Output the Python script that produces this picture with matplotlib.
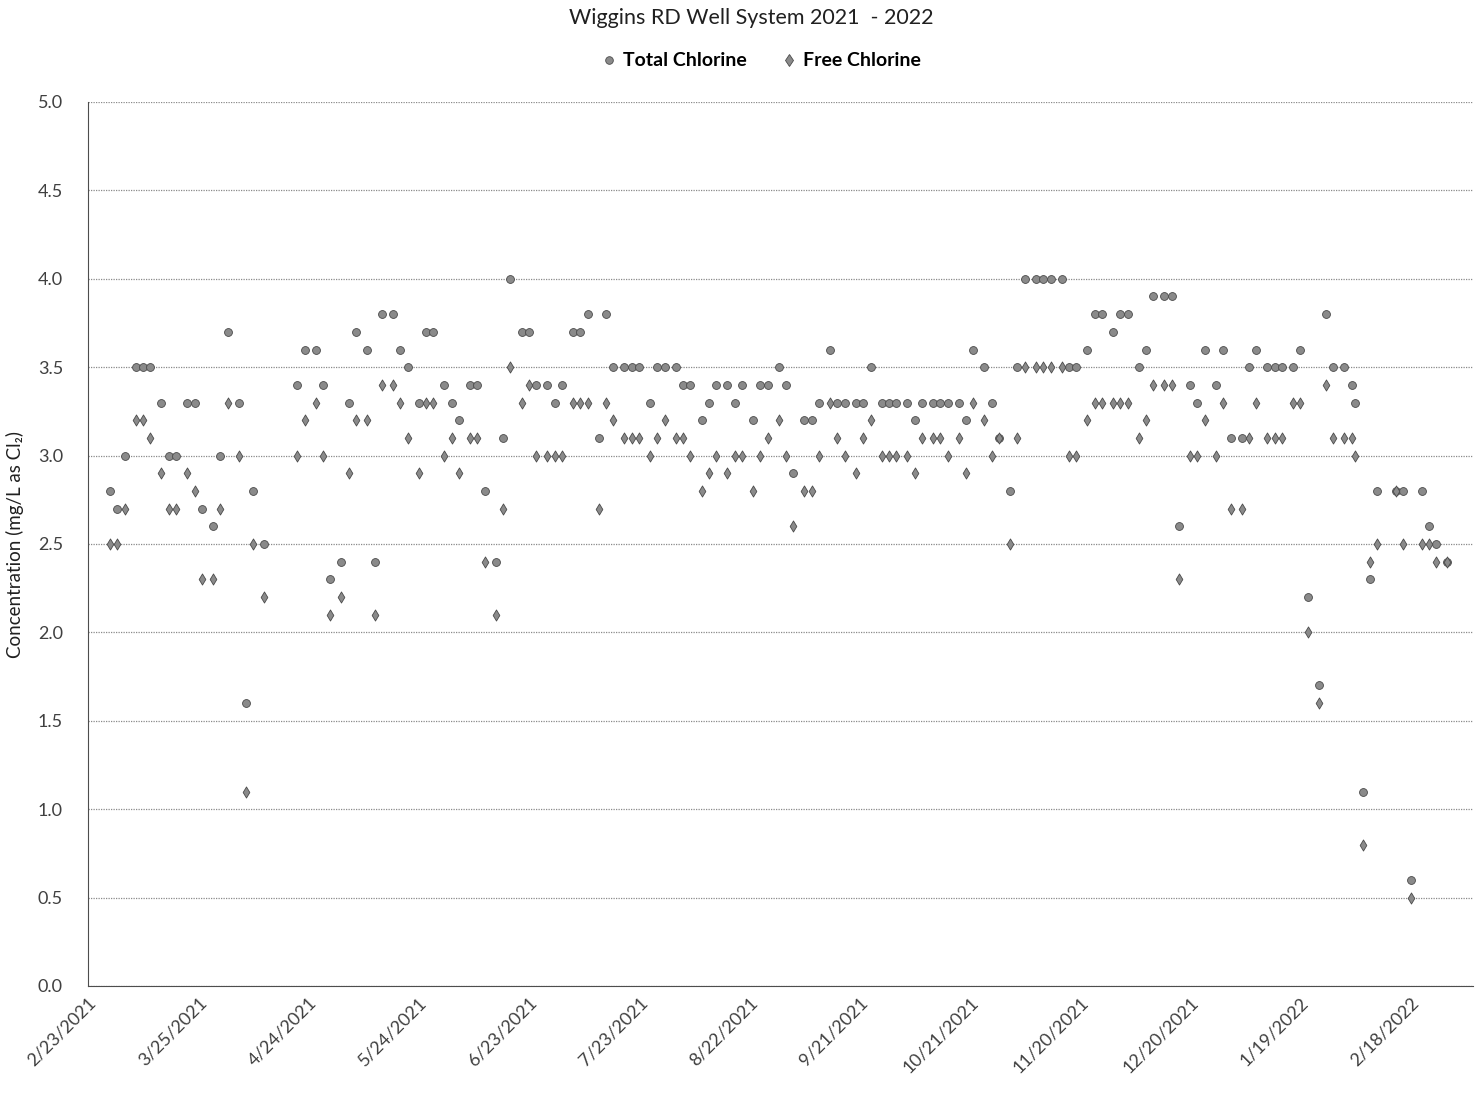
import matplotlib
matplotlib.use("Agg")
import matplotlib.pyplot as plt
from matplotlib.lines import Line2D
import datetime as dt

plt.rcParams['font.family'] = ['Lato', 'DejaVu Sans']

# ---- data ----
dates = [
    "2021-03-01", "2021-03-03", "2021-03-05",
    "2021-03-08", "2021-03-10", "2021-03-12",
    "2021-03-15", "2021-03-17", "2021-03-19",
    "2021-03-22", "2021-03-24", "2021-03-26",
    "2021-03-29", "2021-03-31", "2021-04-02",
    "2021-04-05", "2021-04-07", "2021-04-09",
    "2021-04-12",
    "2021-04-21", "2021-04-23",
    "2021-04-26", "2021-04-28", "2021-04-30",
    "2021-05-03", "2021-05-05", "2021-05-07",
    "2021-05-10", "2021-05-12", "2021-05-14",
    "2021-05-17", "2021-05-19", "2021-05-21",
    "2021-05-24", "2021-05-26", "2021-05-28",
    "2021-05-31", "2021-06-02", "2021-06-04",
    "2021-06-07", "2021-06-09", "2021-06-11",
    "2021-06-14", "2021-06-16", "2021-06-18",
    "2021-06-21", "2021-06-23", "2021-06-25",
    "2021-06-28", "2021-06-30", "2021-07-02",
    "2021-07-05", "2021-07-07", "2021-07-09",
    "2021-07-12", "2021-07-14", "2021-07-16",
    "2021-07-19", "2021-07-21", "2021-07-23",
    "2021-07-26", "2021-07-28", "2021-07-30",
    "2021-08-02", "2021-08-04", "2021-08-06",
    "2021-08-09", "2021-08-11", "2021-08-13",
    "2021-08-16", "2021-08-18", "2021-08-20",
    "2021-08-23", "2021-08-25", "2021-08-27",
    "2021-08-30", "2021-09-01", "2021-09-03",
    "2021-09-06", "2021-09-08", "2021-09-10",
    "2021-09-13", "2021-09-15", "2021-09-17",
    "2021-09-20", "2021-09-22", "2021-09-24",
    "2021-09-27", "2021-09-29", "2021-10-01",
    "2021-10-04", "2021-10-06", "2021-10-08",
    "2021-10-11", "2021-10-13", "2021-10-15",
    "2021-10-18", "2021-10-20", "2021-10-22",
    "2021-10-25", "2021-10-27", "2021-10-29",
    "2021-11-01", "2021-11-03", "2021-11-05",
    "2021-11-08", "2021-11-10", "2021-11-12",
    "2021-11-15", "2021-11-17", "2021-11-19",
    "2021-11-22", "2021-11-24", "2021-11-26",
    "2021-11-29", "2021-12-01", "2021-12-03",
    "2021-12-06", "2021-12-08", "2021-12-10",
    "2021-12-13", "2021-12-15", "2021-12-17",
    "2021-12-20", "2021-12-22", "2021-12-24",
    "2021-12-27", "2021-12-29", "2021-12-31",
    "2022-01-03", "2022-01-05", "2022-01-07",
    "2022-01-10", "2022-01-12", "2022-01-14",
    "2022-01-17", "2022-01-19", "2022-01-21",
    "2022-01-24", "2022-01-26", "2022-01-28",
    "2022-01-31", "2022-02-02", "2022-02-03",
    "2022-02-05", "2022-02-07", "2022-02-09",
    "2022-02-14", "2022-02-16", "2022-02-18",
    "2022-02-21", "2022-02-23", "2022-02-25",
    "2022-02-28",
]

total_chlorine = [
    2.8, 2.7, 3.0,
    3.5, 3.5, 3.5,
    3.3, 3.0, 3.0,
    3.3, 3.3, 2.7,
    2.6, 3.0, 3.7,
    3.3, 1.6, 2.8,
    2.5,
    3.4, 3.6,
    3.6, 3.4, 2.3,
    2.4, 3.3, 3.7,
    3.6, 2.4, 3.8,
    3.8, 3.6, 3.5,
    3.3, 3.7, 3.7,
    3.4, 3.3, 3.2,
    3.4, 3.4, 2.8,
    2.4, 3.1, 4.0,
    3.7, 3.7, 3.4,
    3.4, 3.3, 3.4,
    3.7, 3.7, 3.8,
    3.1, 3.8, 3.5,
    3.5, 3.5, 3.5,
    3.3, 3.5, 3.5,
    3.5, 3.4, 3.4,
    3.2, 3.3, 3.4,
    3.4, 3.3, 3.4,
    3.2, 3.4, 3.4,
    3.5, 3.4, 2.9,
    3.2, 3.2, 3.3,
    3.6, 3.3, 3.3,
    3.3, 3.3, 3.5,
    3.3, 3.3, 3.3,
    3.3, 3.2, 3.3,
    3.3, 3.3, 3.3,
    3.3, 3.2, 3.6,
    3.5, 3.3, 3.1,
    2.8, 3.5, 4.0,
    4.0, 4.0, 4.0,
    4.0, 3.5, 3.5,
    3.6, 3.8, 3.8,
    3.7, 3.8, 3.8,
    3.5, 3.6, 3.9,
    3.9, 3.9, 2.6,
    3.4, 3.3, 3.6,
    3.4, 3.6, 3.1,
    3.1, 3.5, 3.6,
    3.5, 3.5, 3.5,
    3.5, 3.6, 2.2,
    1.7, 3.8, 3.5,
    3.5, 3.4, 3.3,
    1.1, 2.3, 2.8,
    2.8, 2.8, 0.6,
    2.8, 2.6, 2.5,
    2.4,
]

free_chlorine = [
    2.5, 2.5, 2.7,
    3.2, 3.2, 3.1,
    2.9, 2.7, 2.7,
    2.9, 2.8, 2.3,
    2.3, 2.7, 3.3,
    3.0, 1.1, 2.5,
    2.2,
    3.0, 3.2,
    3.3, 3.0, 2.1,
    2.2, 2.9, 3.2,
    3.2, 2.1, 3.4,
    3.4, 3.3, 3.1,
    2.9, 3.3, 3.3,
    3.0, 3.1, 2.9,
    3.1, 3.1, 2.4,
    2.1, 2.7, 3.5,
    3.3, 3.4, 3.0,
    3.0, 3.0, 3.0,
    3.3, 3.3, 3.3,
    2.7, 3.3, 3.2,
    3.1, 3.1, 3.1,
    3.0, 3.1, 3.2,
    3.1, 3.1, 3.0,
    2.8, 2.9, 3.0,
    2.9, 3.0, 3.0,
    2.8, 3.0, 3.1,
    3.2, 3.0, 2.6,
    2.8, 2.8, 3.0,
    3.3, 3.1, 3.0,
    2.9, 3.1, 3.2,
    3.0, 3.0, 3.0,
    3.0, 2.9, 3.1,
    3.1, 3.1, 3.0,
    3.1, 2.9, 3.3,
    3.2, 3.0, 3.1,
    2.5, 3.1, 3.5,
    3.5, 3.5, 3.5,
    3.5, 3.0, 3.0,
    3.2, 3.3, 3.3,
    3.3, 3.3, 3.3,
    3.1, 3.2, 3.4,
    3.4, 3.4, 2.3,
    3.0, 3.0, 3.2,
    3.0, 3.3, 2.7,
    2.7, 3.1, 3.3,
    3.1, 3.1, 3.1,
    3.3, 3.3, 2.0,
    1.6, 3.4, 3.1,
    3.1, 3.1, 3.0,
    0.8, 2.4, 2.5,
    2.8, 2.5, 0.5,
    2.5, 2.5, 2.4,
    2.4,
]

y_ticks = [0.0, 0.5, 1.0, 1.5, 2.0, 2.5, 3.0, 3.5, 4.0, 4.5, 5.0]
x_start = "2021-02-23"
x_end = "2022-03-07"
tick_step_days = 30

# ---- plot ----
x = [dt.datetime.strptime(d, "%Y-%m-%d") for d in dates]
fig = plt.figure(figsize=(14.75, 10.93), dpi=100)
ax = fig.add_axes([88/1475, 1-986/1093, (1473-88)/1475, (986-102)/1093])

mk = dict(s=32, facecolor='#8a8a8a', edgecolor='#4a4a4a', linewidth=0.6, zorder=3)
ax.scatter(x, total_chlorine, marker='o', **mk)
ax.scatter(x, free_chlorine, marker='d', **mk)

x0 = dt.datetime.strptime(x_start, "%Y-%m-%d")
x1 = dt.datetime.strptime(x_end, "%Y-%m-%d")
ax.set_xlim(x0, x1)
ax.set_ylim(0, 5)
ax.set_yticks(y_ticks)
ax.set_yticklabels([f"{v:.1f}" for v in y_ticks])

ticks = []
t = x0
while t <= x1:
    ticks.append(t)
    t += dt.timedelta(days=tick_step_days)
ax.set_xticks(ticks)
ax.set_xticklabels([f"{d.month}/{d.day}/{d.year}" for d in ticks],
                   rotation=45, ha='right', va='top', rotation_mode='anchor')

ax.yaxis.grid(True, linestyle=(0, (1, 1)), color='#8a8a8a', linewidth=0.9)
ax.set_axisbelow(True)
for s in ['top', 'right']:
    ax.spines[s].set_visible(False)
ax.spines['left'].set_color('#4d4d4d')
ax.spines['bottom'].set_color('#4d4d4d')
ax.tick_params(axis='y', length=0, pad=18, labelsize=13, labelcolor='#404040')
ax.tick_params(axis='x', length=0, pad=6, labelsize=13, labelcolor='#404040')

ax.set_ylabel("Concentration (mg/L as Cl₂)", fontsize=13.5, color='#202020', labelpad=10)

fig.text(751/1475, 1-18/1093, "Wiggins RD Well System 2021  - 2022", ha='center', va='center',
         fontsize=15.5, color='#202020')

handles = [
    Line2D([], [], marker='o', linestyle='none', markersize=5.5, markerfacecolor='#8a8a8a',
           markeredgecolor='#4a4a4a', markeredgewidth=0.6, label='Total Chlorine'),
    Line2D([], [], marker='d', linestyle='none', markersize=6, markerfacecolor='#8a8a8a',
           markeredgecolor='#4a4a4a', markeredgewidth=0.6, label='Free Chlorine'),
]
fig.legend(handles=handles, loc='center', bbox_to_anchor=(759/1475, 1-61/1093), ncol=2,
           frameon=False, handletextpad=0.1, columnspacing=1.6, handlelength=1.2,
           prop={'weight': 'bold', 'size': 14})

fig.savefig("out.png", dpi=100)
